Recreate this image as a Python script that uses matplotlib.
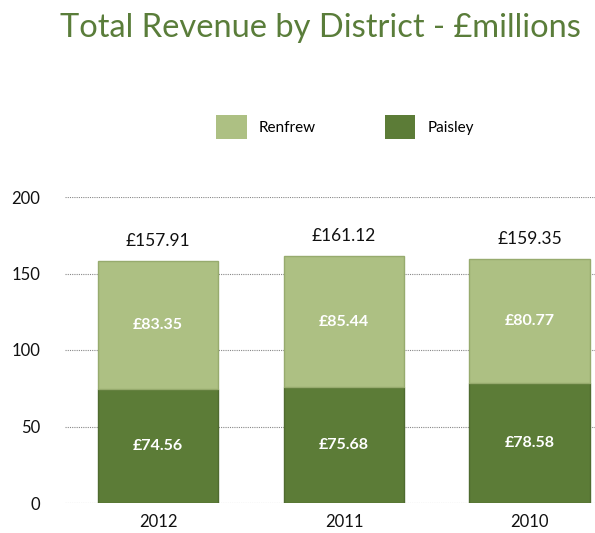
import matplotlib
matplotlib.use("Agg")
import matplotlib.pyplot as plt
from matplotlib.patches import Patch

years = ["2012", "2011", "2010"]
paisley = [74.56, 75.68, 78.58]
renfrew = [83.35, 85.44, 80.77]
totals = [157.91, 161.12, 159.35]
yticks = [0, 50, 100, 150, 200]

plt.rcParams['font.family'] = ['Lato', 'DejaVu Sans']

fig = plt.figure(figsize=(5.95, 5.33), dpi=100)
ax = fig.add_axes([65/595, 1-503/533, 1-65/595, (503-197)/533])

c_pais = "#5c7c37"
c_ren = "#adc083"
x = list(range(len(years)))
w = 0.65
b1 = ax.bar(x, paisley, width=w, color=c_pais, edgecolor="#4f6b2f", linewidth=1.0, zorder=3)
b2 = ax.bar(x, renfrew, width=w, bottom=paisley, color=c_ren, edgecolor="#97ab6e", linewidth=1.0, zorder=3)

for i in x:
    ax.text(i, paisley[i]/2, f"£{paisley[i]:.2f}", ha="center", va="center",
            color="white", fontsize=11.5, fontweight="bold", zorder=4)
    ax.text(i, paisley[i] + renfrew[i]/2, f"£{renfrew[i]:.2f}", ha="center", va="center",
            color="white", fontsize=11.5, fontweight="bold", zorder=4)
    ax.text(i, paisley[i] + renfrew[i] + 8, f"£{totals[i]:.2f}", ha="center", va="bottom",
            color="#111111", fontsize=12.5, zorder=4)

ax.set_xlim(-0.5, 2.35)
ax.set_ylim(0, 200)
ax.set_yticks(yticks)
ax.set_xticks(x)
ax.set_xticklabels(years)
ax.tick_params(axis="both", length=0, labelsize=12, colors="#111111")
ax.tick_params(axis="y", pad=18)
ax.tick_params(axis="x", pad=8)
for s in ax.spines.values():
    s.set_visible(False)
ax.yaxis.grid(True, linestyle=(0, (1, 1)), color="#888888", linewidth=0.8, zorder=0)
ax.set_axisbelow(True)

fig.text(320/595, 1-28/533, "Total Revenue by District - £millions", ha="center", va="center",
         color="#5a7d3a", fontsize=23.5)

handles = [Patch(facecolor=c_ren, label="Renfrew"), Patch(facecolor=c_pais, label="Paisley")]
fig.legend(handles=handles, loc="center", bbox_to_anchor=(345/595, 1-127/533), ncol=2,
           frameon=False, fontsize=11, handlelength=2.0, handleheight=2.0, columnspacing=4.5)

fig.savefig("out.png", dpi=100)
